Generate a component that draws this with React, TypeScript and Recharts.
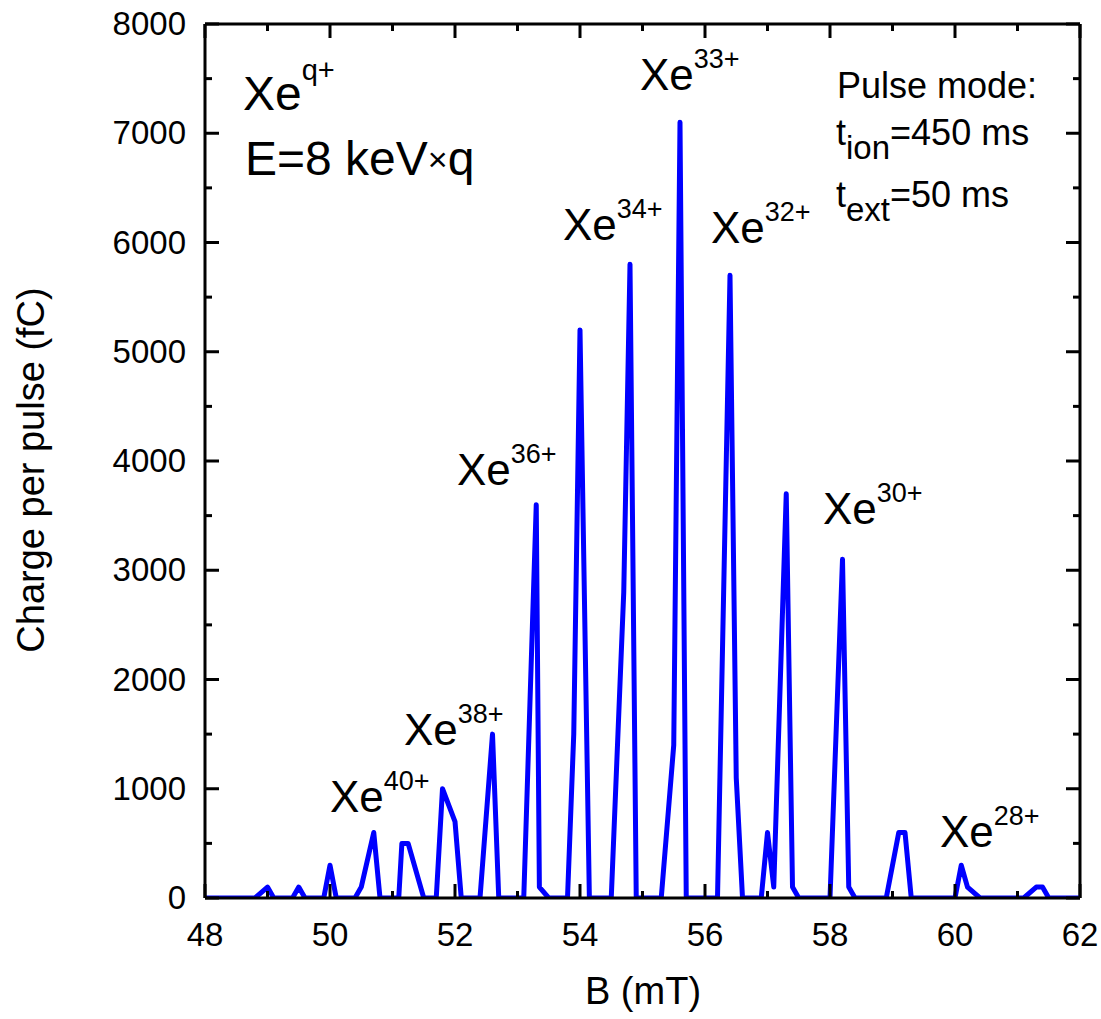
import React from 'react';
import { LineChart, Line, XAxis, YAxis, ReferenceLine } from 'recharts';

// B field (mT) and measured charge per pulse (fC)
const bField = [
  48.0, 48.8, 49.0, 49.1, 49.4, 49.5, 49.6, 49.9, 50.0, 50.1,
  50.4, 50.5, 50.7, 50.8, 51.1, 51.15, 51.25, 51.5, 51.7, 51.8,
  52.0, 52.1, 52.4, 52.6, 52.7, 53.1, 53.3, 53.35, 53.5, 53.8,
  53.9, 54.0, 54.15, 54.5, 54.7, 54.8, 54.9, 55.3, 55.5, 55.6,
  55.7, 56.2, 56.4, 56.5, 56.6, 56.9, 57.0, 57.1, 57.3, 57.4,
  57.5, 58.0, 58.2, 58.3, 58.4, 58.9, 59.1, 59.2, 59.3, 60.0,
  60.1, 60.2, 60.4, 61.1, 61.3, 61.4, 61.5, 62.0,
];
const charge = [
  0, 0, 100, 0, 0, 100, 0, 0, 300, 0,
  0, 100, 600, 0, 0, 500, 500, 0, 0, 1000,
  700, 0, 0, 1500, 0, 0, 3600, 100, 0, 0,
  1500, 5200, 0, 0, 2800, 5800, 0, 0, 1400, 7100,
  0, 0, 5700, 1100, 0, 0, 600, 100, 3700, 100,
  0, 0, 3100, 100, 0, 0, 600, 600, 0, 0,
  300, 100, 0, 0, 100, 100, 0, 0,
];

const xTicks = [48, 49, 50, 51, 52, 53, 54, 55, 56, 57, 58, 59, 60, 61, 62];
const yTicks = [0, 500, 1000, 1500, 2000, 2500, 3000, 3500, 4000, 4500, 5000, 5500, 6000, 6500, 7000, 7500, 8000];

// peak labels: ion charge state and where the label sits
const peakLabels = [
  { q: '33+', x: 640, y: 90 },
  { q: '34+', x: 563, y: 240 },
  { q: '32+', x: 711, y: 243 },
  { q: '36+', x: 457, y: 485 },
  { q: '30+', x: 823, y: 524 },
  { q: '38+', x: 404, y: 745 },
  { q: '40+', x: 330, y: 812 },
  { q: '28+', x: 940, y: 847 },
];

const data = bField.map((b, i) => ({ b, charge: charge[i] }));

const FONT = '"Liberation Sans", Arial, Helvetica, sans-serif';
const W = 1101;
const H = 1019;
const TOP = 24;
const BOTTOM = 898;
const LEFT = 205;
const RIGHT = 1080;

const XTick = (props: any) => {
  const { x, payload } = props;
  const v = payload.value;
  const major = v % 2 === 0;
  const len = major ? 14 : 7;
  return (
    <g>
      <line x1={x} x2={x} y1={BOTTOM} y2={BOTTOM - len} stroke="#000" strokeWidth={3} />
      <line x1={x} x2={x} y1={TOP} y2={TOP + len} stroke="#000" strokeWidth={3} />
      {major && (
        <text x={x} y={946} textAnchor="middle" fontSize={33} fontFamily={FONT} fill="#000">
          {v}
        </text>
      )}
    </g>
  );
};

const YTick = (props: any) => {
  const { y, payload } = props;
  const v = payload.value;
  const major = v % 1000 === 0;
  const len = major ? 14 : 7;
  return (
    <g>
      <line x1={LEFT} x2={LEFT + len} y1={y} y2={y} stroke="#000" strokeWidth={3} />
      <line x1={RIGHT} x2={RIGHT - len} y1={y} y2={y} stroke="#000" strokeWidth={3} />
      {major && (
        <text x={186} y={y + 11} textAnchor="end" fontSize={33} fontFamily={FONT} fill="#000">
          {v}
        </text>
      )}
    </g>
  );
};

export default function App() {
  return (
    <div style={{ position: 'absolute', left: 0, top: 0, width: W, height: H, background: '#fff', fontFamily: FONT }}>
      <LineChart
        width={W}
        height={H}
        data={data}
        margin={{ top: TOP, right: W - RIGHT, bottom: 0, left: 0 }}
      >
        <XAxis
          dataKey="b"
          type="number"
          domain={[48, 62]}
          ticks={xTicks}
          interval={0}
          tick={<XTick />}
          tickLine={false}
          axisLine={{ stroke: '#000', strokeWidth: 3 }}
          height={H - BOTTOM}
          allowDataOverflow
        />
        <YAxis
          type="number"
          domain={[0, 8000]}
          ticks={yTicks}
          interval={0}
          tick={<YTick />}
          tickLine={false}
          axisLine={{ stroke: '#000', strokeWidth: 3 }}
          width={LEFT}
          allowDataOverflow
        />
        <ReferenceLine y={8000} stroke="#000" strokeWidth={3} />
        <ReferenceLine x={62} stroke="#000" strokeWidth={3} />
        <Line
          type="linear"
          dataKey="charge"
          stroke="#0000ff"
          strokeWidth={5}
          strokeLinejoin="round"
          dot={false}
          isAnimationActive={false}
        />
      </LineChart>
      <svg
        width={W}
        height={H}
        style={{ position: 'absolute', left: 0, top: 0, pointerEvents: 'none' }}
        fontFamily={FONT}
      >
        <text x={44} y={470} fontSize={38} textAnchor="middle" transform="rotate(-90 44 470)">
          Charge per pulse (fC)
        </text>
        <text x={643} y={1004} fontSize={38} textAnchor="middle">
          B (mT)
        </text>
        <text x={243} y={110} fontSize={48}>
          Xe<tspan dy={-30} fontSize={29}>q+</tspan>
        </text>
        <text x={245} y={175} fontSize={48}>
          E=8 keV<tspan fontSize={34} dy={-4}>×</tspan><tspan dy={4}>q</tspan>
        </text>
        <text x={837} y={98} fontSize={36}>
          Pulse mode:
        </text>
        <text x={836} y={145} fontSize={36}>
          t<tspan dy={14} fontSize={33}>ion</tspan>
          <tspan dy={-14}>=450 ms</tspan>
        </text>
        <text x={836} y={207} fontSize={36}>
          t<tspan dy={14} fontSize={33}>ext</tspan>
          <tspan dy={-14}>=50 ms</tspan>
        </text>
        {peakLabels.map((p) => (
          <text key={p.q} x={p.x} y={p.y} fontSize={44}>
            Xe<tspan dy={-22} fontSize={27}>{p.q}</tspan>
          </text>
        ))}
      </svg>
    </div>
  );
}
